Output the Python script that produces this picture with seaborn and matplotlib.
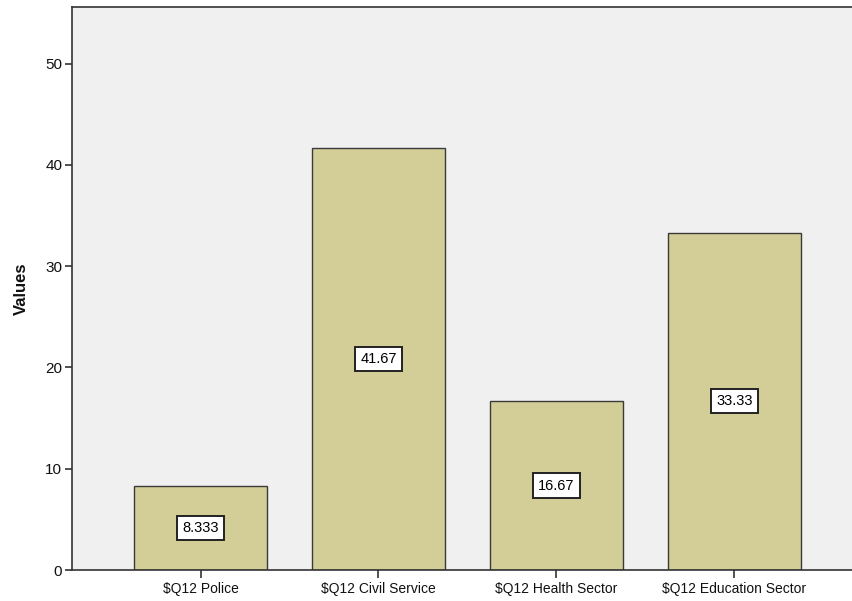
import pandas as pd
import matplotlib
matplotlib.use('Agg')
import matplotlib.pyplot as plt
import seaborn as sns

categories = [r'\$Q12 Police', r'\$Q12 Civil Service', r'\$Q12 Health Sector', r'\$Q12 Education Sector']
values = [8.333, 41.67, 16.67, 33.33]
yticks = [0, 10, 20, 30, 40, 50]

BAR_COLOR = '#D3CE97'
BG_COLOR = '#F0F0F0'

sns.set_style('white')
plt.rcParams['font.family'] = ['Liberation Sans', 'DejaVu Sans']

df = pd.DataFrame({'cat': categories, 'val': values})

fig = plt.figure(figsize=(8.53, 6.01), dpi=100)
ax = fig.add_axes([72 / 853, 31 / 601, 1 - 72 / 853, 563 / 601])
ax.set_facecolor(BG_COLOR)

sns.barplot(data=df, x='cat', y='val', color=BAR_COLOR, saturation=1,
            edgecolor='#3a3a3a', linewidth=1.0, width=0.75, ax=ax)

ax.bar_label(ax.containers[0], labels=[f'{v:.4g}' for v in values], label_type='center',
             fontsize=10.5, color='black',
             bbox=dict(boxstyle='square,pad=0.35', facecolor='white', edgecolor='#222222', linewidth=1.4))

ax.set_xlim(-0.722, 3.666)
ax.set_ylim(0, 55.6)
ax.set_yticks(yticks)
ax.set_yticklabels([str(t) for t in yticks], fontsize=11)
ax.tick_params(axis='y', left=True, direction='out', length=5, width=1.2, color='#333333', pad=2,
               labelcolor='#111111')
ax.tick_params(axis='x', bottom=True, direction='out', length=6, width=1.2, color='#333333',
               labelsize=10, pad=3, labelcolor='#111111')
ax.set_xlabel('')
ax.set_ylabel('Values', fontsize=12, fontweight='bold', labelpad=12, color='#111111')

for side in ['left', 'bottom', 'top']:
    ax.spines[side].set_color('#333333')
    ax.spines[side].set_linewidth(1.2)
ax.spines['right'].set_visible(False)

plt.savefig('out.png', dpi=100)
